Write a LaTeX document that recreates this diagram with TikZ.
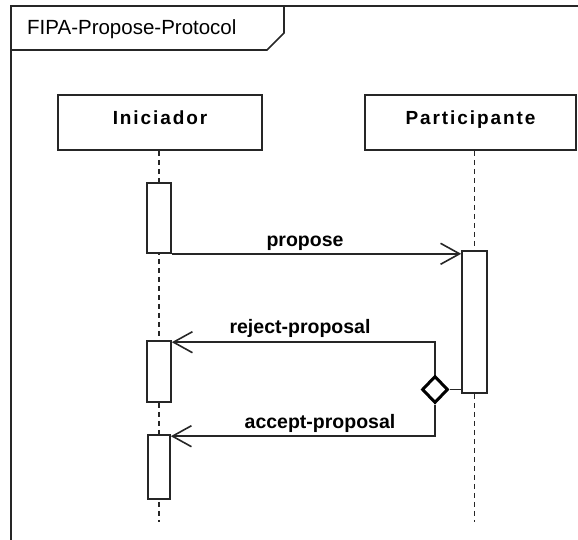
\documentclass[tikz,border=0pt]{standalone}
\usepackage{fontspec}
\setmainfont{Liberation Sans}
\newfontfamily\spacedfont[LetterSpace=10.0]{Liberation Sans}
\usetikzlibrary{arrows.meta,shapes.geometric}
\begin{document}
\begin{tikzpicture}[x=1pt,y=-1pt,
  ink/.style={draw=black!85, line width=1.6pt},
  lifebox/.style={ink, rectangle, fill=white, minimum height=55pt, inner sep=0pt,
    text height=13pt, text depth=8pt,
    font=\spacedfont\bfseries\fontsize{19}{21}\selectfont},
  lifeline/.style={draw=black!85, line width=1.5pt, dash pattern=on 5pt off 4pt},
  actbar/.style={ink, rectangle, fill=white, inner sep=0pt, minimum width=24pt},
  msg/.style={ink, -{Straight Barb[length=19pt, width=21pt]}},
  choice/.style={draw=black, line width=3pt, diamond, fill=white, inner sep=0pt,
    minimum width=26pt, minimum height=27pt},
  msglabel/.style={anchor=base, inner sep=0pt, font=\bfseries\fontsize{19.5}{22}\selectfont},
]
\useasboundingbox (0,0) rectangle (578,540);

% interaction frame with its name tab
\draw[ink] (578,6) -- (11,6) -- (11,540);
\draw[ink] (284,6) -- (284,33) -- (267,50) -- (11,50);
\node[anchor=base west, inner sep=0pt, font=\fontsize{20.5}{24}\selectfont]
  (title) at (27,35) {FIPA-Propose-Protocol};

% lifeline heads
\node[lifebox, minimum width=204pt] (ini) at (160,122.5) {Iniciador};
\node[lifebox, minimum width=211pt] (par) at (470.5,122.5) {Participante};

% lifelines
\coordinate (iniEnd) at (159,522);
\coordinate (parEnd) at (474.5,522);
\draw[lifeline] (ini.south -| iniEnd) -- (iniEnd);
\draw[lifeline] (par.south -| parEnd) -- (parEnd);

% activation bars
\node[actbar, minimum height=70pt] (b1) at (159,218) {};
\node[actbar, minimum height=61pt] (b2) at (159,371.5) {};
\node[actbar, minimum width=22pt, minimum height=64pt] (b3) at (159,467) {};
\node[actbar, minimum width=25pt, minimum height=142pt] (p1) at (474.5,322) {};

% choice point
\node[choice] (dc) at (435,389.5) {};

% messages
\draw[msg] (b1.south east) -- (b1.south east -| p1.west);
\draw[ink] (dc.east) -- (dc.east -| p1.west);
\draw[msg] (dc.north) |- ([yshift=-2pt]b2.north east);
\draw[msg] (dc.south) |- ([yshift=-2pt]b3.north east);

% message labels
\node[msglabel] (lpropose) at (305,246) {propose};
\node[msglabel] (lreject) at (300,333) {reject-proposal};
\node[msglabel] (laccept) at (320,428) {accept-proposal};
\end{tikzpicture}
\end{document}
